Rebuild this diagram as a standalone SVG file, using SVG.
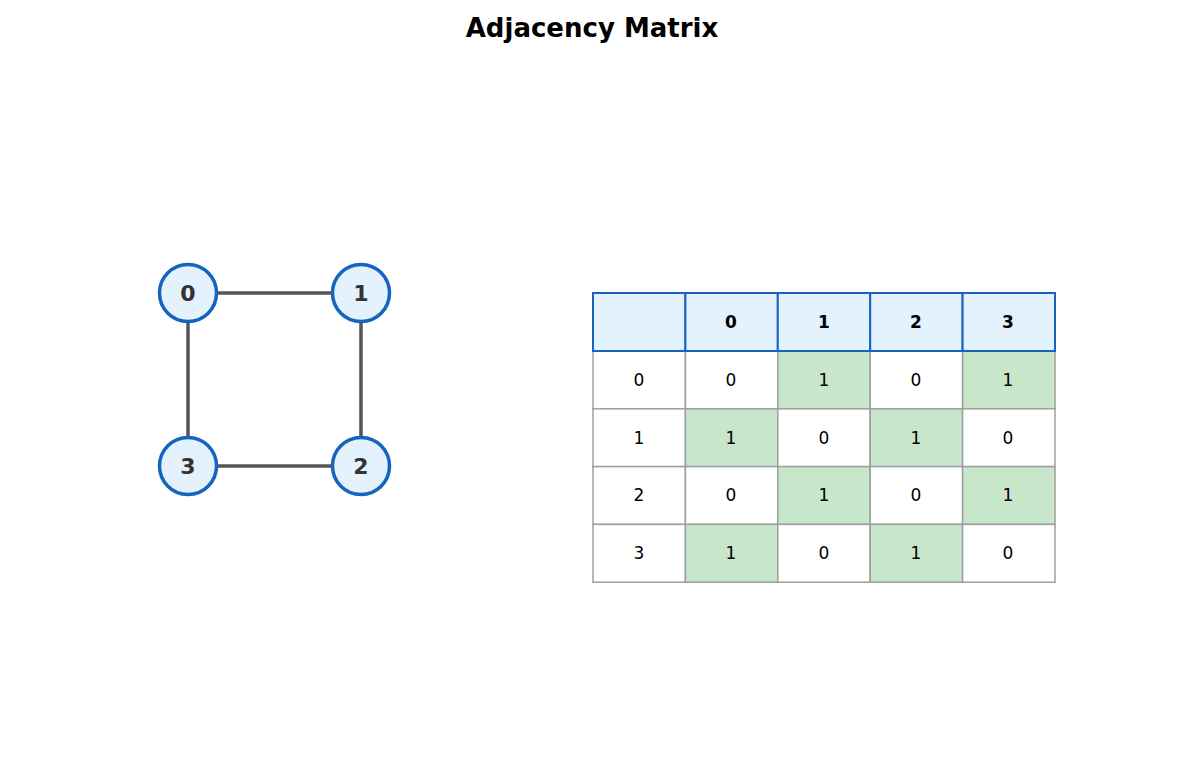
<svg xmlns="http://www.w3.org/2000/svg" width="1185" height="770" viewBox="0 0 1185 770">
<style>
text{font-family:"DejaVu Sans",sans-serif;text-anchor:middle;dominant-baseline:central}
.t{font-size:26px;font-weight:bold;fill:#000}
.n circle{fill:#e3f2fd;stroke:#1565c0;stroke-width:3.5}
.n text{font-size:22px;font-weight:bold;fill:#333}
.e line{stroke:#555;stroke-width:3.5}
.h{fill:#e3f2fd;stroke:#1565c0;stroke-width:2}
.c{fill:#fff;stroke:#9e9e9e;stroke-width:1.5}
.g{fill:#c8e6c9;stroke:#9e9e9e;stroke-width:1.5}
.hx{font-size:17px;font-weight:bold}
.cx{font-size:17px}
</style>
<rect width="1185" height="770" fill="#fff"/>
<text class="t" x="592" y="28">Adjacency Matrix</text>
<g class="e" id="edges">
<line x1="217" y1="293" x2="333" y2="293"/>
<line x1="361" y1="322" x2="361" y2="437"/>
<line x1="217" y1="466" x2="333" y2="466"/>
<line x1="188" y1="322" x2="188" y2="437"/>
</g>
<g class="n" id="n0"><circle cx="188" cy="293" r="28.5"/><text x="188" y="293">0</text></g>
<g class="n" id="n1"><circle cx="361" cy="293" r="28.5"/><text x="361" y="293">1</text></g>
<g class="n" id="n2"><circle cx="361" cy="466" r="28.5"/><text x="361" y="466">2</text></g>
<g class="n" id="n3"><circle cx="188" cy="466" r="28.5"/><text x="188" y="466">3</text></g>
<g id="matrix">
<rect class="c" x="593" y="351" width="92.4" height="57.8"/><text class="cx" x="639" y="380">0</text>
<rect class="c" x="685.4" y="351" width="92.4" height="57.8"/><text class="cx" x="731" y="380">0</text>
<rect class="g" x="777.8" y="351" width="92.4" height="57.8"/><text class="cx" x="824" y="380">1</text>
<rect class="c" x="870.2" y="351" width="92.4" height="57.8"/><text class="cx" x="916" y="380">0</text>
<rect class="g" x="962.6" y="351" width="92.4" height="57.8"/><text class="cx" x="1008" y="380">1</text>
<rect class="c" x="593" y="408.8" width="92.4" height="57.8"/><text class="cx" x="639" y="438">1</text>
<rect class="g" x="685.4" y="408.8" width="92.4" height="57.8"/><text class="cx" x="731" y="438">1</text>
<rect class="c" x="777.8" y="408.8" width="92.4" height="57.8"/><text class="cx" x="824" y="438">0</text>
<rect class="g" x="870.2" y="408.8" width="92.4" height="57.8"/><text class="cx" x="916" y="438">1</text>
<rect class="c" x="962.6" y="408.8" width="92.4" height="57.8"/><text class="cx" x="1008" y="438">0</text>
<rect class="c" x="593" y="466.6" width="92.4" height="57.8"/><text class="cx" x="639" y="495">2</text>
<rect class="c" x="685.4" y="466.6" width="92.4" height="57.8"/><text class="cx" x="731" y="495">0</text>
<rect class="g" x="777.8" y="466.6" width="92.4" height="57.8"/><text class="cx" x="824" y="495">1</text>
<rect class="c" x="870.2" y="466.6" width="92.4" height="57.8"/><text class="cx" x="916" y="495">0</text>
<rect class="g" x="962.6" y="466.6" width="92.4" height="57.8"/><text class="cx" x="1008" y="495">1</text>
<rect class="c" x="593" y="524.4" width="92.4" height="57.8"/><text class="cx" x="639" y="553">3</text>
<rect class="g" x="685.4" y="524.4" width="92.4" height="57.8"/><text class="cx" x="731" y="553">1</text>
<rect class="c" x="777.8" y="524.4" width="92.4" height="57.8"/><text class="cx" x="824" y="553">0</text>
<rect class="g" x="870.2" y="524.4" width="92.4" height="57.8"/><text class="cx" x="916" y="553">1</text>
<rect class="c" x="962.6" y="524.4" width="92.4" height="57.8"/><text class="cx" x="1008" y="553">0</text>
<rect class="h" x="593" y="293" width="92.4" height="58"/>
<rect class="h" x="685.4" y="293" width="92.4" height="58"/><text class="hx" x="731" y="322">0</text>
<rect class="h" x="777.8" y="293" width="92.4" height="58"/><text class="hx" x="824" y="322">1</text>
<rect class="h" x="870.2" y="293" width="92.4" height="58"/><text class="hx" x="916" y="322">2</text>
<rect class="h" x="962.6" y="293" width="92.4" height="58"/><text class="hx" x="1008" y="322">3</text>
</g>
</svg>
